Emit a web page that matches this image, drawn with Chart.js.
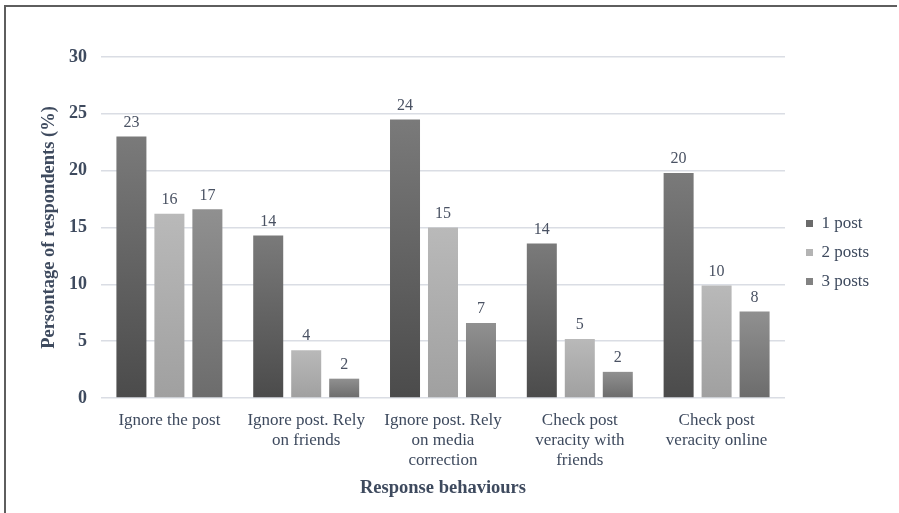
<!DOCTYPE html>
<html lang="en">
<head>
  <meta charset="UTF-8">
  <title>Response behaviours</title>
  <script src="https://cdn.jsdelivr.net/npm/chart.js"></script>
  <style>
    html, body {
      margin: 0;
      padding: 0;
      background: #fff;
      overflow: hidden;
    }
    .line-top {
      position: absolute;
      left: 4px;
      top: 5px;
      width: 893px;
      height: 2px;
      background: #5e5e5e;
    }
    .line-left {
      position: absolute;
      left: 4px;
      top: 5px;
      width: 2px;
      height: 508px;
      background: #5e5e5e;
    }
    .wrap {
      position: absolute;
      left: 0;
      top: 0;
      width: 899px;
      height: 513px;
    }
  </style>
</head>
<body>
  <div class="line-top"></div>
  <div class="line-left"></div>
  <div class="wrap"><canvas id="chart"></canvas></div>

  <script>
    // Data
    const categories = [
      ['Ignore the post'],
      ['Ignore post. Rely', 'on friends'],
      ['Ignore post. Rely', 'on media', 'correction'],
      ['Check post', 'veracity with', 'friends'],
      ['Check post', 'veracity online']
    ];
    const seriesNames = ['1 post', '2 posts', '3 posts'];
    const onePost = [23.0, 14.3, 24.5, 13.6, 19.8];
    const twoPosts = [16.2, 4.2, 15.0, 5.2, 9.9];
    const threePosts = [16.6, 1.7, 6.6, 2.3, 7.6];
    const onePostLabels = ['23', '14', '24', '14', '20'];
    const twoPostsLabels = ['16', '4', '15', '5', '10'];
    const threePostsLabels = ['17', '2', '7', '2', '8'];
    const yTicks = [0, 5, 10, 15, 20, 25, 30];

    const textColor = '#3e4a5e';
    const serif = "'Liberation Serif', 'Times New Roman', serif";

    // per-bar vertical gradient, lighter at the top
    function barFill(top, bottom, flat) {
      return function (ctx) {
        if (ctx.type !== 'data') return flat;
        const chart = ctx.chart;
        const y = chart.scales.y;
        if (!y || !chart.chartArea) return flat;
        const y0 = y.getPixelForValue(ctx.parsed.y);
        const y1 = y.getPixelForValue(0);
        if (!isFinite(y0) || !isFinite(y1) || y0 === y1) return flat;
        const g = chart.ctx.createLinearGradient(0, y0, 0, y1);
        g.addColorStop(0, top);
        g.addColorStop(1, bottom);
        return g;
      };
    }

    // draws the value labels above the bars
    const valueLabels = {
      id: 'valueLabels',
      afterDatasetsDraw(chart) {
        const ctx = chart.ctx;
        ctx.save();
        ctx.font = '16px ' + serif;
        ctx.fillStyle = '#4a5263';
        ctx.textAlign = 'center';
        ctx.textBaseline = 'middle';
        chart.data.datasets.forEach((ds, i) => {
          const meta = chart.getDatasetMeta(i);
          meta.data.forEach((bar, j) => {
            ctx.fillText(ds.valueLabels[j], bar.x, bar.y - 14);
          });
        });
        ctx.restore();
      }
    };

    // fixes the legend size and puts it where the picture has it
    const legendPlace = {
      id: 'legendPlace',
      beforeInit(chart) {
        const legend = chart.legend;
        if (!legend) return;
        const fit = legend.fit;
        legend.fit = function () {
          fit.call(this);
          this.width = 114;
        };
      },
      afterLayout(chart) {
        const legend = chart.legend;
        if (!legend) return;
        const h = legend.height;
        legend.left = 794;
        legend.right = legend.left + legend.width;
        legend.top = 203;
        legend.bottom = legend.top + h;
      }
    };

    new Chart(document.getElementById('chart'), {
      type: 'bar',
      data: {
        labels: categories,
        datasets: [
          {
            label: seriesNames[0],
            data: onePost,
            valueLabels: onePostLabels,
            backgroundColor: barFill('#7a7a7a', '#4b4b4b', '#595959')
          },
          {
            label: seriesNames[1],
            data: twoPosts,
            valueLabels: twoPostsLabels,
            backgroundColor: barFill('#b9b9b9', '#a0a0a0', '#a6a6a6')
          },
          {
            label: seriesNames[2],
            data: threePosts,
            valueLabels: threePostsLabels,
            backgroundColor: barFill('#909090', '#6c6c6c', '#7f7f7f')
          }
        ]
      },
      options: {
        responsive: true,
        maintainAspectRatio: false,
        animation: false,
        layout: {
          padding: { left: 38, right: 0, top: 57, bottom: 14 }
        },
        datasets: {
          bar: {
            categoryPercentage: 0.833,
            barPercentage: 0.79
          }
        },
        scales: {
          x: {
            grid: { display: false },
            border: { display: false },
            ticks: {
              color: textColor,
              padding: 5,
              maxRotation: 0,
              autoSkip: false,
              font: { family: serif, size: 17, lineHeight: '20px' }
            },
            title: {
              display: true,
              text: 'Response behaviours',
              color: textColor,
              padding: { top: 0, bottom: 0 },
              font: { family: serif, size: 18.5, weight: 'bold', lineHeight: '22px' }
            },
            afterFit(scale) {
              scale.height = 101;
            }
          },
          y: {
            min: 0,
            max: 30,
            afterBuildTicks(scale) {
              scale.ticks = yTicks.map(v => ({ value: v }));
            },
            grid: {
              color: '#dadde4',
              lineWidth: 1.5,
              drawTicks: false
            },
            border: { display: false },
            ticks: {
              color: textColor,
              padding: 14,
              font: { family: serif, size: 18, weight: 'bold' }
            },
            title: {
              display: true,
              text: 'Persontage of respondents (%)',
              color: textColor,
              padding: { top: 0, bottom: 0 },
              font: { family: serif, size: 18.5, weight: 'bold', lineHeight: '22px' }
            },
            afterFit(scale) {
              scale.width = 63;
            }
          }
        },
        plugins: {
          legend: {
            position: 'right',
            align: 'start',
            labels: {
              color: textColor,
              boxWidth: 7,
              boxHeight: 7,
              padding: 12,
              font: { family: serif, size: 17 }
            }
          },
          tooltip: { enabled: false }
        }
      },
      plugins: [valueLabels, legendPlace]
    });
  </script>
</body>
</html>
